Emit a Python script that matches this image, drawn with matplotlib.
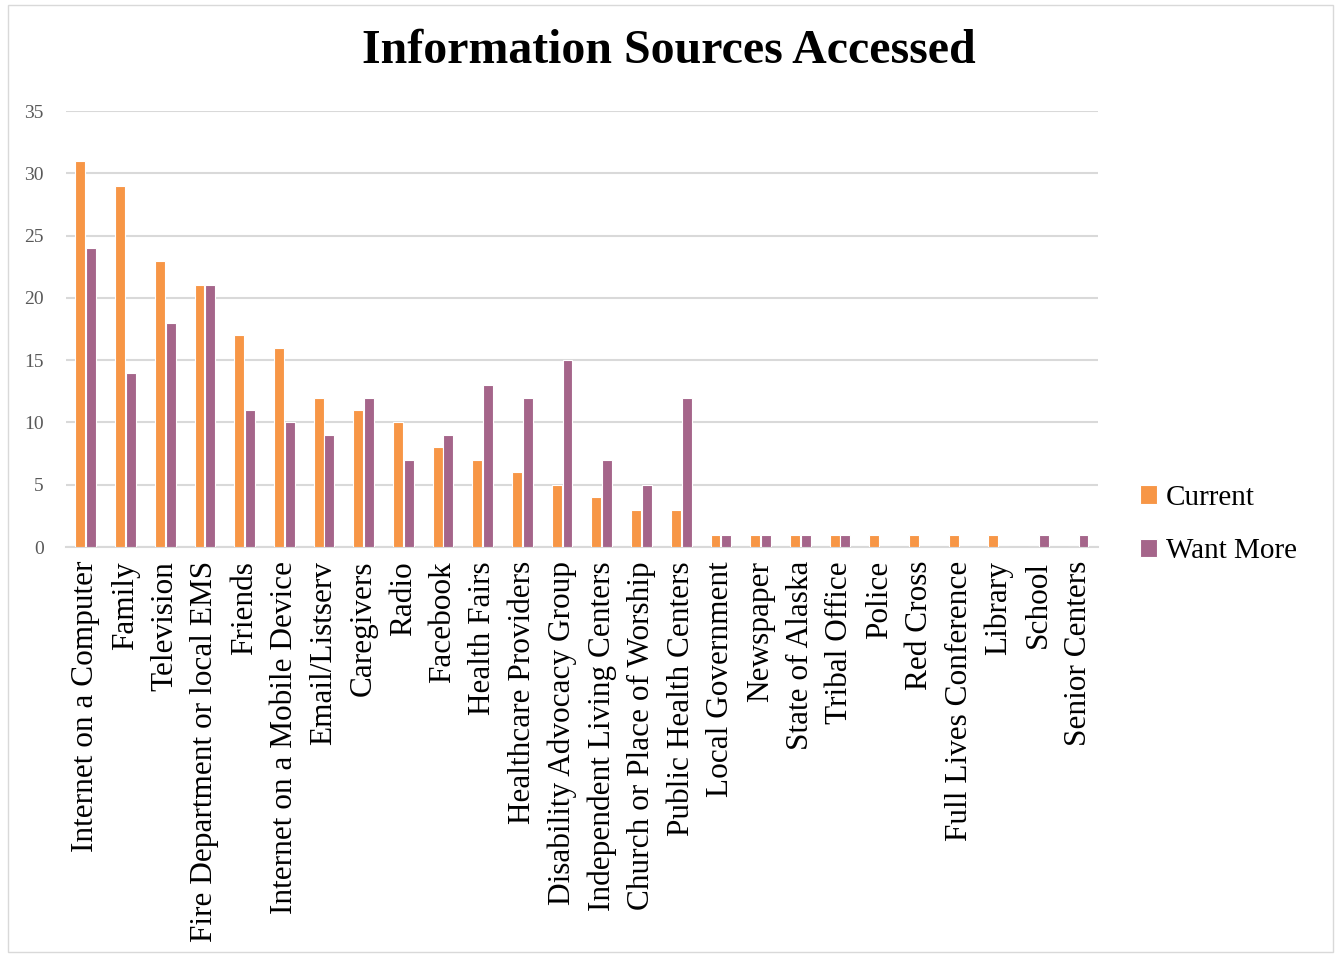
import matplotlib
matplotlib.use('Agg')
import matplotlib.pyplot as plt
import numpy as np
from matplotlib.patches import Rectangle

plt.rcParams['font.family'] = ['Liberation Serif', 'DejaVu Serif']

# 数据
categories = ['Internet on a Computer', 'Family', 'Television', 'Fire Department or local EMS',
              'Friends', 'Internet on a Mobile Device', 'Email/Listserv', 'Caregivers', 'Radio',
              'Facebook', 'Health Fairs', 'Healthcare Providers', 'Disability Advocacy Group',
              'Independent Living Centers', 'Church or Place of Worship', 'Public Health Centers',
              'Local Government', 'Newspaper', 'State of Alaska', 'Tribal Office', 'Police',
              'Red Cross', 'Full Lives Conference', 'Library', 'School', 'Senior Centers']
current = [31, 29, 23, 21, 17, 16, 12, 11, 10, 8, 7, 6, 5, 4, 3, 3, 1, 1, 1, 1, 1, 1, 1, 1, 0, 0]
want_more = [24, 14, 18, 21, 11, 10, 9, 12, 7, 9, 13, 12, 15, 7, 5, 12, 1, 1, 1, 1, 0, 0, 0, 0, 1, 1]
series_names = ['Current', 'Want More']

c_orange = '#F79646'
c_purple = '#A5658A'

fig = plt.figure(figsize=(13.38, 9.57), dpi=100)
ax = fig.add_axes([0.0493, 0.4284, 0.7713, 0.4556])

x = np.arange(len(categories))
w = 0.25
b1 = ax.bar(x - 0.135, current, w, color=c_orange, edgecolor='white', linewidth=0.8, label=series_names[0], zorder=3)
b2 = ax.bar(x + 0.135, want_more, w, color=c_purple, edgecolor='white', linewidth=0.8, label=series_names[1], zorder=3)

ax.set_xlim(-0.5, len(categories) - 0.5)
ax.set_ylim(0, 35)
ax.set_yticks(range(0, 36, 5))
ax.yaxis.grid(True, color='#D9D9D9', linewidth=1.5, zorder=0)
ax.set_axisbelow(True)
for s in ['top', 'right', 'left']:
    ax.spines[s].set_visible(False)
ax.spines['bottom'].set_color('#D9D9D9')
ax.spines['bottom'].set_linewidth(1.5)
ax.tick_params(axis='y', length=0, labelsize=14, labelcolor='#595959', pad=16)
ax.tick_params(axis='x', length=0, pad=10)
ax.set_xticks(x)
ax.set_xticklabels(categories, rotation=90, fontsize=22.5)

fig.suptitle('Information Sources Accessed', fontsize=34.5, fontweight='bold', x=0.5, y=0.947, va='center')

fig.legend(handles=[b1, b2], labels=series_names, loc='center left', bbox_to_anchor=(0.852, 0.452),
           frameon=False, fontsize=21, handlelength=0.6, handleheight=0.6, handletextpad=0.3,
           labelspacing=0.95, borderaxespad=0, borderpad=0)

fig.patches.append(Rectangle((0.006, 0.005), 0.99, 0.99, transform=fig.transFigure,
                             fill=False, edgecolor='#D9D9D9', linewidth=1))

fig.savefig('out.png', dpi=100)
